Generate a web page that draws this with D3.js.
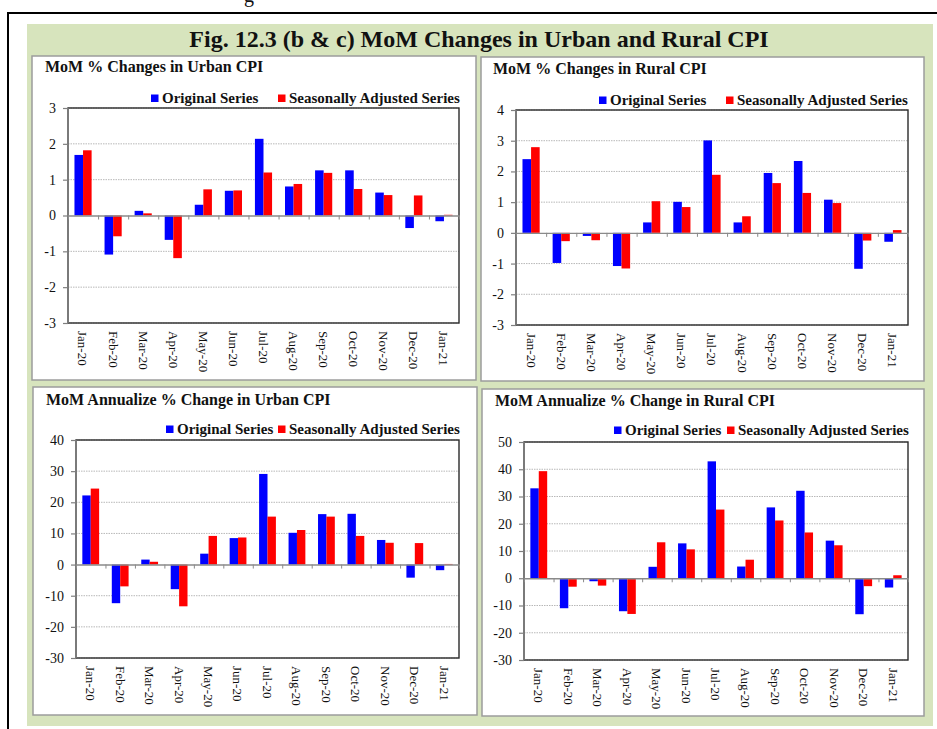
<!DOCTYPE html>
<html>
<head>
<meta charset="utf-8">
<script src="https://cdn.jsdelivr.net/npm/d3@7"></script>
<style>
  body { margin: 0; background: #fff; }
  svg text { font-family: "Liberation Serif", "Times New Roman", serif; fill: #111; }
</style>
</head>
<body>
<svg id="grafico" width="937" height="729"></svg>
<script>
// categorias (meses)
const meses = ["Jan-20", "Feb-20", "Mar-20", "Apr-20", "May-20", "Jun-20", "Jul-20",
               "Aug-20", "Sep-20", "Oct-20", "Nov-20", "Dec-20", "Jan-21"];

// MoM % urbano
const urbanMoMOrig = [1.69, -1.09, 0.13, -0.68, 0.30, 0.69, 2.14, 0.81, 1.26, 1.26, 0.64, -0.35, -0.16];
const urbanMoMSA   = [1.82, -0.58, 0.06, -1.19, 0.73, 0.70, 1.20, 0.88, 1.19, 0.74, 0.57, 0.56, 0.02];

// MoM % rural
const ruralMoMOrig = [2.40, -0.98, -0.10, -1.08, 0.34, 1.01, 3.01, 0.34, 1.95, 2.34, 1.08, -1.17, -0.29];
const ruralMoMSA   = [2.79, -0.27, -0.24, -1.16, 1.03, 0.84, 1.89, 0.54, 1.62, 1.30, 0.97, -0.25, 0.09];

// MoM anualizado urbano
const urbanAnnOrig = [22.2, -12.4, 1.6, -7.9, 3.5, 8.5, 29.1, 10.2, 16.2, 16.3, 7.9, -4.2, -1.8];
const urbanAnnSA   = [24.4, -7.0, 0.9, -13.4, 9.2, 8.7, 15.4, 11.1, 15.4, 9.2, 7.0, 6.9, 0.2];

// MoM anualizado rural
const ruralAnnOrig = [33.0, -11.0, -1.1, -12.1, 4.2, 12.8, 42.9, 4.3, 26.0, 32.1, 13.8, -13.2, -3.4];
const ruralAnnSA   = [39.3, -3.1, -2.7, -13.1, 13.2, 10.6, 25.2, 6.8, 21.2, 16.8, 12.1, -2.9, 1.1];

// ticks do eixo y
const ticksUrbanMoM = [-3, -2, -1, 0, 1, 2, 3];
const ticksRuralMoM = [-3, -2, -1, 0, 1, 2, 3, 4];
const ticksUrbanAnn = [-30, -20, -10, 0, 10, 20, 30, 40];
const ticksRuralAnn = [-30, -20, -10, 0, 10, 20, 30, 40, 50];

const legendas = ["Original Series", "Seasonally Adjusted Series"];
const cores = ["#0000ff", "#ff0000"];

const svg = d3.select("#grafico");

// moldura da pagina
svg.append("line").attr("x1", 7).attr("x2", 937).attr("y1", 13).attr("y2", 13)
    .attr("stroke", "#000").attr("stroke-width", 2);
svg.append("line").attr("x1", 8).attr("x2", 8).attr("y1", 12).attr("y2", 729)
    .attr("stroke", "#000").attr("stroke-width", 2);
// pedaco do texto de cima, cortado na borda
svg.append("text").attr("x", 244).attr("y", 2).style("font-size", "20px").text("g");

// fundo verde
svg.append("rect").attr("x", 27).attr("y", 24).attr("width", 906).attr("height", 702)
    .attr("fill", "#d7e4bd");

svg.append("text")
    .attr("x", 479).attr("y", 47)
    .attr("text-anchor", "middle")
    .style("font-size", "24px").style("font-weight", "bold")
    .text("Fig. 12.3 (b & c) MoM Changes in Urban and Rural CPI");

// configuracao de cada painel
const paineis = [
    { titulo: "MoM % Changes in Urban CPI", orig: urbanMoMOrig, sa: urbanMoMSA, ticks: ticksUrbanMoM,
      caixa: [32, 56, 476, 380], plot: [68, 108, 459, 323], tit: [45, 72], leg: [151, 278, 103] },
    { titulo: "MoM % Changes in Rural CPI", orig: ruralMoMOrig, sa: ruralMoMSA, ticks: ticksRuralMoM,
      caixa: [481, 57, 924, 381], plot: [516, 110, 908, 325], tit: [493, 74], leg: [599, 726, 105] },
    { titulo: "MoM Annualize % Change in Urban CPI", orig: urbanAnnOrig, sa: urbanAnnSA, ticks: ticksUrbanAnn,
      caixa: [33, 387, 477, 715], plot: [76, 440, 459, 658], tit: [46, 405], leg: [166, 278, 434] },
    { titulo: "MoM Annualize % Change in Rural CPI", orig: ruralAnnOrig, sa: ruralAnnSA, ticks: ticksRuralAnn,
      caixa: [482, 389, 924, 716], plot: [524, 442, 908, 660], tit: [495, 406], leg: [614, 727, 435] }
];

function desenharPainel(p) {
    const g = svg.append("g");
    const [esq, topo, dir, base] = p.plot;

    // caixa branca do painel
    g.append("rect")
        .attr("x", p.caixa[0]).attr("y", p.caixa[1])
        .attr("width", p.caixa[2] - p.caixa[0]).attr("height", p.caixa[3] - p.caixa[1])
        .attr("fill", "#fff").attr("stroke", "#9c9c9c").attr("stroke-width", 1.5);

    g.append("text")
        .attr("x", p.tit[0]).attr("y", p.tit[1])
        .style("font-size", "16px").style("font-weight", "bold")
        .text(p.titulo);

    // legenda
    [p.leg[0], p.leg[1]].forEach((lx, i) => {
        g.append("rect").attr("x", lx).attr("y", p.leg[2] - 8.5)
            .attr("width", 7.5).attr("height", 7.5).attr("fill", cores[i]);
        g.append("text").attr("x", lx + 11).attr("y", p.leg[2])
            .style("font-size", "15px").style("font-weight", "bold")
            .text(legendas[i]);
    });

    const y = d3.scaleLinear()
        .domain([p.ticks[0], p.ticks[p.ticks.length - 1]])
        .range([base, topo]);
    const x = d3.scaleBand().domain(meses).range([esq, dir])
        .paddingInner(0.43).paddingOuter(0.215);
    const xs = d3.scaleBand().domain(["orig", "sa"]).range([0, x.bandwidth()]);

    // linhas de grade pontilhadas
    g.append("g").selectAll("line")
        .data(p.ticks.filter(t => t != 0))
        .join("line")
        .attr("x1", esq).attr("x2", dir)
        .attr("y1", d => y(d)).attr("y2", d => y(d))
        .attr("stroke", "#b8b8b8").attr("stroke-dasharray", "1.5,1");

    // barras
    const dados = [];
    meses.forEach((m, i) => {
        dados.push({ mes: m, serie: "orig", valor: p.orig[i] });
        dados.push({ mes: m, serie: "sa", valor: p.sa[i] });
    });
    g.append("g").selectAll("rect")
        .data(dados)
        .join("rect")
        .attr("x", d => x(d.mes) + xs(d.serie))
        .attr("width", xs.bandwidth())
        .attr("y", d => y(Math.max(0, d.valor)))
        .attr("height", d => Math.abs(y(d.valor) - y(0)))
        .attr("fill", d => d.serie == "orig" ? cores[0] : cores[1]);

    // borda da area do grafico
    g.append("rect")
        .attr("x", esq).attr("y", topo).attr("width", dir - esq).attr("height", base - topo)
        .attr("fill", "none").attr("stroke", "#2a2a2a").attr("stroke-width", 1.4);

    // eixo y (hifen simples no sinal negativo, como no original)
    const eixoY = g.append("g")
        .attr("transform", `translate(${esq},0)`)
        .call(d3.axisLeft(y).tickValues(p.ticks).tickSize(5).tickPadding(7).tickFormat(d => String(d)));
    eixoY.select(".domain").remove();
    eixoY.selectAll(".tick line").attr("stroke", "#7f7f7f").attr("stroke-width", 1.2);
    eixoY.selectAll("text").style("font-size", "14px").style("font-family", "Liberation Serif, serif").attr("fill", "#222");
    g.append("line").attr("x1", esq).attr("x2", esq).attr("y1", topo).attr("y2", base)
        .attr("stroke", "#7f7f7f").attr("stroke-width", 1.6);

    // linha do zero com marcas entre categorias
    const xLin = d3.scaleLinear().domain([0, meses.length]).range([esq, dir]);
    const eixoZero = g.append("g")
        .attr("transform", `translate(0,${y(0)})`)
        .call(d3.axisBottom(xLin).tickValues(d3.range(0, meses.length + 1)).tickSize(4).tickSizeOuter(0).tickFormat(""));
    eixoZero.select(".domain").attr("stroke", "#8a8a8a").attr("stroke-width", 1.4);
    eixoZero.selectAll(".tick line").attr("stroke", "#8a8a8a");

    // rotulos dos meses, girados
    const eixoX = g.append("g")
        .attr("transform", `translate(0,${base})`)
        .call(d3.axisBottom(x).tickSize(0).tickPadding(0));
    eixoX.select(".domain").remove();
    eixoX.selectAll("text")
        .attr("x", 8).attr("y", 0).attr("dy", "0.35em")
        .attr("transform", "rotate(90)")
        .style("text-anchor", "start")
        .style("font-size", "13px").style("font-family", "Liberation Serif, serif")
        .attr("fill", "#222");
}

paineis.forEach(desenharPainel);
</script>
</body>
</html>
